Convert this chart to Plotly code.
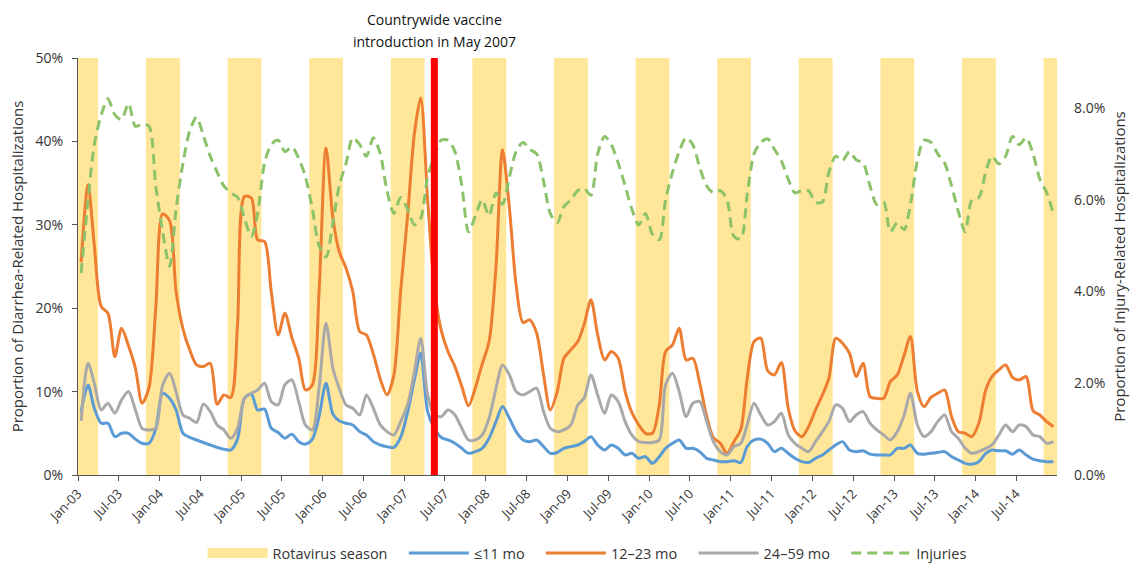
import pandas as pd
import plotly.graph_objects as go

# ---- data (percent) ----
months = pd.date_range("2003-01-01", periods=144, freq="MS") + pd.Timedelta(days=14)

le11 = [7.6, 10.8, 8.0, 6.2, 6.2, 4.6, 5.0, 5.0, 4.3, 3.8, 3.8, 5.5,
        9.8, 9.2, 7.8, 5.0, 4.5, 4.2, 3.9, 3.6, 3.3, 3.1, 3.0, 4.3,
        9.2, 9.7, 7.8, 7.9, 5.6, 5.1, 4.4, 4.9, 4.0, 3.7, 4.3, 7.0,
        11.0, 7.3, 6.5, 6.2, 6.0, 5.2, 4.8, 4.0, 3.6, 3.4, 3.3, 4.5,
        7.5, 11.5, 14.6, 7.6, 5.6, 4.5, 4.2, 3.8, 3.2, 2.6, 2.8, 3.2,
        4.4, 6.4, 8.2, 6.8, 5.2, 4.2, 4.0, 4.2, 3.4, 2.6, 2.7, 3.2,
        3.4, 3.6, 4.0, 4.6, 3.6, 3.0, 3.6, 3.2, 2.4, 2.6, 2.0, 2.2,
        1.4, 2.2, 3.2, 3.8, 4.2, 3.2, 3.2, 2.8, 2.0, 1.8, 1.6, 1.6,
        1.7, 1.5, 3.4, 4.2, 4.3, 3.8, 2.8, 3.2, 2.6, 2.0, 1.6, 1.5,
        2.0, 2.4, 3.0, 3.6, 4.0, 3.0, 2.8, 2.9, 2.5, 2.4, 2.4, 2.4,
        3.2, 3.2, 3.6, 2.6, 2.5, 2.6, 2.7, 2.8, 2.2, 1.8, 1.4, 1.3,
        1.6, 2.6, 3.0, 2.9, 2.9, 2.5, 3.0, 2.4, 1.9, 1.7, 1.6, 1.6]

m12_23 = [25.5, 34.8, 27.5, 20.2, 19.4, 14.2, 17.6, 15.5, 12.8, 8.6, 10.5, 20.0,
          31.3, 30.5, 22.0, 17.5, 15.0, 13.2, 13.0, 13.4, 8.5, 9.6, 9.3, 18.0,
          33.4, 33.2, 28.2, 28.0, 22.0, 16.8, 19.4, 16.5, 14.0, 10.2, 10.8, 22.0,
          39.2, 30.8, 26.8, 24.8, 22.0, 17.2, 16.8, 14.5, 11.5, 9.6, 12.0, 22.0,
          31.0, 41.0, 45.2, 33.0, 22.5, 17.3, 14.8, 13.0, 10.6, 8.3, 10.5, 13.3,
          16.0, 25.0, 39.0, 32.0, 22.8, 18.3, 18.6, 17.0, 12.0, 7.8, 10.0, 14.0,
          15.0, 16.0, 18.0, 21.0, 16.8, 13.8, 14.8, 14.0, 10.0, 7.5, 6.0, 5.0,
          5.0, 8.4, 14.8, 15.6, 17.6, 13.8, 14.0, 11.0, 7.0, 4.5, 3.8, 2.6,
          4.0, 5.5, 11.5, 16.0, 16.4, 12.5, 12.0, 13.5, 8.0, 5.3, 4.6, 5.8,
          7.8, 9.6, 11.6, 16.4, 15.8, 14.6, 11.8, 13.4, 9.4, 9.2, 9.2, 11.2,
          12.0, 14.4, 16.6, 10.0, 8.2, 9.3, 9.8, 10.2, 7.0, 5.2, 5.0, 4.6,
          6.2, 10.2, 11.8, 12.6, 13.2, 11.7, 11.4, 11.8, 7.7, 7.2, 6.4, 5.8]

m24_59 = [6.5, 13.4, 11.0, 7.8, 8.6, 7.4, 9.0, 10.0, 7.8, 5.6, 5.4, 5.6,
          10.8, 12.2, 10.0, 7.2, 6.8, 6.3, 8.5, 7.6, 6.0, 5.4, 4.4, 5.6,
          9.2, 9.8, 10.2, 11.0, 8.8, 8.4, 10.8, 11.4, 8.8, 6.0, 5.4, 10.4,
          18.2, 12.8, 10.4, 8.4, 8.0, 7.2, 9.6, 8.0, 6.0, 5.2, 4.8, 6.4,
          8.4, 12.4, 16.4, 9.6, 7.2, 7.0, 7.8, 7.2, 5.6, 4.2, 4.2, 4.8,
          6.8, 10.4, 13.2, 12.0, 10.0, 9.6, 10.0, 10.4, 7.6, 5.6, 5.2, 5.4,
          6.0, 8.4, 9.2, 12.0, 9.6, 7.4, 9.6, 8.8, 6.4, 4.8, 4.0, 3.9,
          3.9, 4.2, 10.8, 12.2, 10.0, 7.0, 8.6, 8.8, 6.4, 4.0, 2.8, 2.4,
          3.4, 3.8, 6.0, 8.6, 7.2, 6.0, 6.4, 7.4, 4.8, 3.8, 3.2, 2.8,
          4.0, 5.2, 6.4, 8.4, 8.0, 6.4, 7.2, 7.6, 6.2, 5.4, 4.8, 4.2,
          5.2, 7.2, 9.8, 6.0, 4.6, 5.2, 6.4, 7.2, 5.2, 4.4, 3.2, 2.6,
          2.8, 3.2, 3.6, 4.8, 6.0, 5.2, 6.0, 5.8, 4.8, 4.6, 3.8, 4.0]

injuries = [4.4, 6.0, 7.2, 7.85, 8.2, 7.85, 7.75, 8.1, 7.6, 7.65, 7.6, 6.3,
            5.3, 4.55, 5.8, 6.8, 7.5, 7.8, 7.4, 6.95, 6.6, 6.3, 6.15, 6.05,
            5.6, 5.2, 5.7, 6.8, 7.2, 7.3, 7.05, 7.15, 6.9, 6.5, 5.8, 5.0,
            4.75, 5.5, 6.3, 6.8, 7.35, 7.2, 6.95, 7.35, 7.0, 6.2, 5.7, 6.05,
            5.8, 5.45, 5.6, 6.5, 6.95, 7.3, 7.3, 7.05, 6.3, 5.3, 5.65, 6.0,
            5.65, 6.15, 5.9, 6.5, 7.05, 7.25, 7.1, 7.0, 6.4, 5.7, 5.5, 5.85,
            6.0, 6.2, 6.25, 6.1, 7.0, 7.38, 7.2, 6.8, 6.3, 5.8, 5.45, 5.7,
            5.25, 5.13, 6.0, 6.6, 7.05, 7.35, 7.2, 6.7, 6.3, 6.15, 6.2, 6.0,
            5.2, 5.15, 6.1, 7.0, 7.25, 7.33, 7.1, 6.85, 6.45, 6.15, 6.2, 6.2,
            5.95, 5.95, 6.6, 6.95, 6.85, 7.05, 6.87, 6.8, 6.3, 5.9, 5.95, 5.3,
            5.5, 5.35, 5.9, 6.85, 7.3, 7.25, 7.0, 6.8, 6.3, 5.75, 5.3, 6.0,
            6.05, 6.6, 6.95, 6.78, 6.95, 7.38, 7.2, 7.35, 7.0, 6.45, 6.15, 5.7]

season_start = ["2003-01-01", "2003-11-01", "2004-11-01", "2005-11-01", "2006-11-01",
                "2007-11-01", "2008-11-01", "2009-11-01", "2010-11-01", "2011-11-01",
                "2012-11-01", "2013-11-01", "2014-11-01"]
season_end = ["2003-04-01", "2004-04-01", "2005-04-01", "2006-04-01", "2007-04-01",
              "2008-04-01", "2009-04-01", "2010-04-01", "2011-04-01", "2012-04-01",
              "2013-04-01", "2014-04-01", "2014-12-31"]

vaccine_date = "2007-05-15"
vaccine_text = ["Countrywide vaccine", "introduction in May 2007"]

tick_dates = pd.date_range("2003-01-01", "2014-07-01", freq="6MS")
tick_text = [d.strftime("%b-%y") for d in tick_dates]

left_ticks = [0, 10, 20, 30, 40, 50]
left_text = [f"{v}%" for v in left_ticks]
right_ticks = [0, 2, 4, 6, 8]
right_text = [f"{v:.1f}%" for v in right_ticks]

# ---- style ----
C_BAND = "#FFE699"
C_BLUE = "#5B9BD5"
C_ORANGE = "#ED7D31"
C_GRAY = "#A9A9A9"
C_GREEN = "#8CC26A"
FONT = "Open Sans"
TXT = "#333333"
PAD = "\u00a0" * 3

fig = go.Figure()

# legend entry for the rotavirus season bands
fig.add_trace(go.Scatter(x=[None], y=[None], mode="lines", name="Rotavirus season" + PAD,
                         line=dict(color=C_BAND, width=12)))

fig.add_trace(go.Scatter(x=months, y=le11, mode="lines", name="≤11 mo" + PAD,
                         line=dict(color=C_BLUE, width=3, shape="spline", smoothing=0.8)))
fig.add_trace(go.Scatter(x=months, y=m12_23, mode="lines", name="12–23 mo" + PAD,
                         line=dict(color=C_ORANGE, width=3, shape="spline", smoothing=0.8)))
fig.add_trace(go.Scatter(x=months, y=m24_59, mode="lines", name="24–59 mo" + PAD,
                         line=dict(color=C_GRAY, width=3, shape="spline", smoothing=0.8)))
fig.add_trace(go.Scatter(x=months, y=injuries, mode="lines", name="Injuries", yaxis="y2",
                         line=dict(color=C_GREEN, width=3, dash="10px,6px",
                                   shape="spline", smoothing=0.8)))

for s, e in zip(season_start, season_end):
    fig.add_shape(type="rect", xref="x", yref="paper", x0=s, x1=e, y0=0, y1=1,
                  fillcolor=C_BAND, line=dict(width=0), layer="below")

fig.add_shape(type="line", xref="x", yref="paper", x0=vaccine_date, x1=vaccine_date,
              y0=0, y1=1, line=dict(color="#FF0000", width=7), layer="above")

for txt, yy in zip(vaccine_text, [1.092, 1.039]):
    fig.add_annotation(x=vaccine_date, xref="x", y=yy, yref="paper", text=txt,
                       showarrow=False, font=dict(family=FONT, size=14, color="#111111"),
                       align="center", yanchor="middle")

fig.update_layout(
    width=1130, height=563,
    margin=dict(l=78, r=73, t=58, b=88, autoexpand=False),
    paper_bgcolor="white", plot_bgcolor="white",
    font=dict(family=FONT, size=13, color=TXT),
    showlegend=True,
    legend=dict(orientation="h", x=0.52, xanchor="center", y=-0.187, yanchor="middle",
                font=dict(family=FONT, size=14.5, color=TXT), itemwidth=60,
                traceorder="normal"),
    xaxis=dict(type="date", range=["2003-01-01", "2014-12-31"], automargin=False,
               tickmode="array", tickvals=list(tick_dates), ticktext=tick_text, tickangle=-45,
               ticks="outside", ticklen=5, tickcolor="#555555",
               showline=True, linecolor="#555555", linewidth=1.2,
               showgrid=False, zeroline=False,
               tickfont=dict(family=FONT, size=13, color=TXT)),
    yaxis=dict(range=[0, 50], automargin=False,
               tickmode="array", tickvals=left_ticks, ticktext=left_text,
               ticks="outside", ticklen=5, tickcolor="#555555", ticklabelstandoff=6,
               showline=True, linecolor="#555555", linewidth=1.2,
               showgrid=False, zeroline=False,
               title=dict(text="Proportion of Diarrhea-Related Hospitalizations",
                          font=dict(family=FONT, size=15, color=TXT), standoff=8),
               tickfont=dict(family=FONT, size=14, color=TXT)),
    yaxis2=dict(range=[0, 9.09], automargin=False,
                tickmode="array", tickvals=right_ticks, ticktext=right_text,
                overlaying="y", side="right", showline=False, showgrid=False,
                zeroline=False, ticks="", ticklabelstandoff=16,
                title=dict(text="Proportion of Injury-Related Hospitalizations",
                           font=dict(family=FONT, size=15, color=TXT), standoff=10),
                tickfont=dict(family=FONT, size=14, color=TXT)),
)

fig.write_html("out.html", config={"displayModeBar": False},
               post_script="document.body.style.margin='0px';")
